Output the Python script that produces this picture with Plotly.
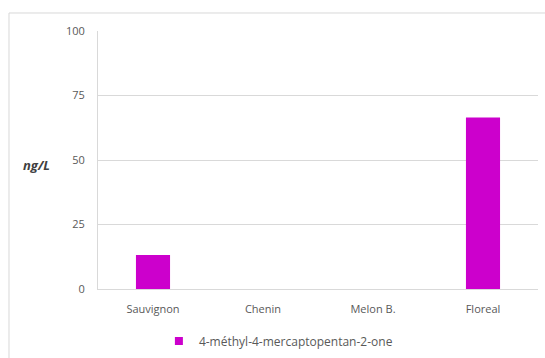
import plotly.graph_objects as go

# Thiol concentration by grape variety
categories = ["Sauvignon", "Chenin", "Melon B.", "Floreal"]
values = [13.2, 0, 0, 66.5]
series_name = "4-méthyl-4-mercaptopentan-2-one"
y_ticks = [0, 25, 50, 75, 100]

bar_color = "#CC00CC"
grid_color = "#D9D9D9"
text_color = "#595959"
font_family = "Open Sans, Noto Sans, sans-serif"

fig = go.Figure()
fig.add_trace(go.Bar(
    x=categories,
    y=values,
    name=series_name,
    marker=dict(color=bar_color, line=dict(width=0)),
    showlegend=False,
    legendgroup="s1",
))
# Legend entry with a small square key for the series
fig.add_trace(go.Scatter(
    x=[None], y=[None],
    mode="markers",
    name=series_name,
    legendgroup="s1",
    marker=dict(symbol="square", size=8, color=bar_color),
    showlegend=True,
    hoverinfo="skip",
))

fig.update_layout(
    width=545,
    height=358,
    margin=dict(l=98, r=7, t=31, b=69, autoexpand=False),
    paper_bgcolor="white",
    plot_bgcolor="white",
    bargap=0.69,
    font=dict(family=font_family, size=11, color=text_color),
    showlegend=True,
    legend=dict(
        orientation="h",
        x=0.41, xanchor="center",
        y=-0.2016, yanchor="middle",
        font=dict(size=12, color=text_color),
        itemwidth=30,
        bgcolor="rgba(0,0,0,0)",
    ),
    xaxis=dict(
        showgrid=False,
        showline=True,
        linecolor=grid_color,
        linewidth=1,
        ticks="",
        ticklabelstandoff=10,
        tickfont=dict(size=11, color=text_color),
        fixedrange=True,
    ),
    yaxis=dict(
        range=[0, 100],
        tickvals=y_ticks,
        showgrid=True,
        gridcolor=grid_color,
        gridwidth=1,
        showline=True,
        linecolor=grid_color,
        linewidth=1,
        zeroline=False,
        ticks="",
        ticklabelstandoff=10,
        tickfont=dict(size=11, color=text_color),
        fixedrange=True,
    ),
    annotations=[dict(
        text="<b><i>ng/L</i></b>",
        xref="paper", yref="paper",
        x=-0.139, y=0.48,
        xanchor="center", yanchor="middle",
        showarrow=False,
        font=dict(size=13, color="#404040", family=font_family),
    )],
    shapes=[dict(
        type="rect",
        xref="paper", yref="paper",
        x0=-0.2023, x1=1.03, y0=-0.31, y1=1.0698,
        line=dict(color=grid_color, width=1),
        fillcolor="rgba(0,0,0,0)",
        layer="below",
    )],
)

fig.write_html("out.html")
